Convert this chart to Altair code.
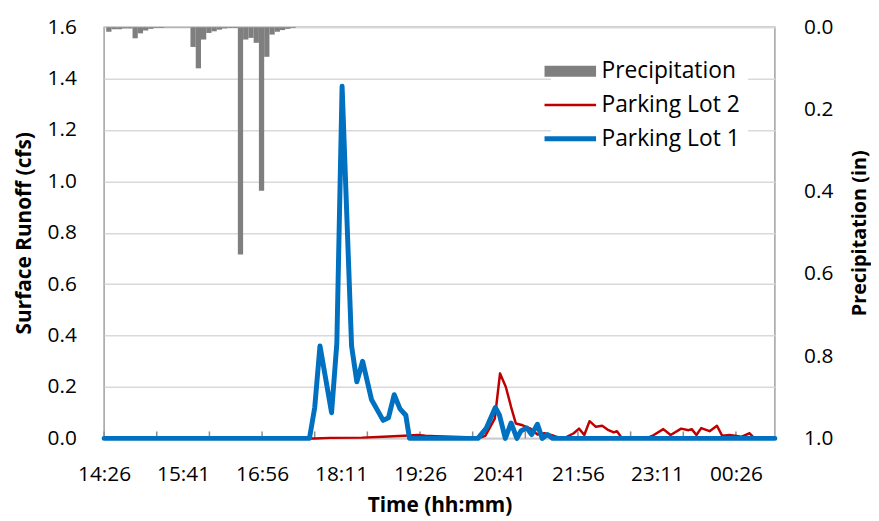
import altair as alt
import pandas as pd

# ---------------- data ----------------
series_names = ["Precipitation", "Parking Lot 2", "Parking Lot 1"]
series_colors = ["#7f7f7f", "#c00000", "#0070c0"]
series_widths = [11, 2.5, 5]

# x values are minutes after 14:26
label_minutes = [0, 75, 150, 225, 300, 375, 450, 525, 600]
tick_minutes = [0, 50, 100, 150, 200, 250, 300, 350, 400, 450, 500, 550, 600]
runoff_ticks = [0.0, 0.2, 0.4, 0.6, 0.8, 1.0, 1.2, 1.4, 1.6]
precip_ticks = [0.0, 0.2, 0.4, 0.6, 0.8, 1.0]

precip_start = [2, 7, 12, 17, 22, 27, 32, 37, 42, 47, 52, 57, 62, 67, 72, 77,
                82, 87, 92, 97, 102, 107, 112, 117, 122, 127, 132, 137, 142,
                147, 152, 157, 162, 167, 172, 177]
precip_in = [0.011, 0.005, 0.005, 0.003, 0.003, 0.027, 0.015, 0.008, 0.004,
             0.002, 0.002, 0.001, 0.001, 0.001, 0.001, 0.001,
             0.048, 0.100, 0.030, 0.014, 0.010, 0.006, 0.003, 0.002, 0.002,
             0.553, 0.030, 0.026, 0.038, 0.398, 0.072, 0.018, 0.011, 0.007,
             0.004, 0.002]

lot1_min = [0, 195, 200, 205, 216, 221, 226, 235, 240, 245.5,
            254, 265, 270, 275.5, 281, 286.5, 290, 355, 363, 371.5,
            375.5, 381, 386.5, 392, 396, 401.5, 406, 411.5, 416, 421,
            426, 637]
lot1_cfs = [0, 0, 0.12, 0.36, 0.10, 0.37, 1.37, 0.36, 0.22, 0.30,
            0.15, 0.07, 0.08, 0.17, 0.115, 0.09, 0, 0, 0.04, 0.12,
            0.09, 0, 0.06, 0, 0.03, 0.04, 0.015, 0.055, 0, 0.015,
            0, 0]

lot2_min = [0, 200, 215, 245, 265, 285, 298, 305, 315, 330,
            345, 355, 362, 371, 376, 381.5, 386.5, 391, 397.5, 405,
            411.5, 418, 427, 435, 438, 446, 451, 456, 461, 467,
            473, 479, 484, 487, 492, 515, 522, 531, 538, 548,
            555, 558, 562.5, 567, 575, 582, 587, 594, 599, 605,
            613, 617.5, 637]
lot2_cfs = [0, 0, 0.002, 0.003, 0.006, 0.01, 0.013, 0.01, 0.008, 0.006,
            0.004, 0, 0.01, 0.077, 0.253, 0.2, 0.122, 0.058, 0.051, 0.038,
            0.015, 0.02, 0.01, 0, 0.003, 0.02, 0.038, 0.013, 0.067, 0.045,
            0.049, 0.032, 0.023, 0.028, 0, 0, 0.013, 0.036, 0.013, 0.038,
            0.032, 0.036, 0.013, 0.04, 0.028, 0.049, 0.01, 0.013, 0.01, 0.006,
            0.02, 0, 0]

# ---------------- tables ----------------
precip_df = pd.DataFrame({
    "t": precip_start,
    "t2": [s + 5 for s in precip_start],
    "precip": precip_in,
    "zero": [0.0] * len(precip_start),
})
lot1_df = pd.DataFrame({"t": lot1_min, "cfs": lot1_cfs,
                        "series": ["Parking Lot 1"] * len(lot1_min)})
lot2_df = pd.DataFrame({"t": lot2_min, "cfs": lot2_cfs,
                        "series": ["Parking Lot 2"] * len(lot2_min)})
tick_df = pd.DataFrame({"t": tick_minutes})

FONT = "Open Sans"
W, H = 677, 415

x_scale = alt.Scale(domain=[0, 637], nice=False, zero=False)
x_axis = alt.Axis(
    values=label_minutes,
    labelExpr="timeFormat(datetime(2000, 0, 1, 14, 26 + datum.value), '%H:%M')",
    ticks=False, tickSize=0, domain=False, grid=False,
    labelOverlap=False, labelFlush=False, labelBound=False,
    labelFontSize=21, labelPadding=26, labelColor="#000000",
    title="Time (hh:mm)", titleFontSize=21, titleFontWeight="bold",
    titleColor="#000000", titlePadding=10,
)

y_left = alt.Y(
    "cfs:Q",
    scale=alt.Scale(domain=[0, 1.6], nice=False),
    axis=alt.Axis(
        values=runoff_ticks, format=".1f", grid=True, gridColor="#d9d9d9",
        gridWidth=1.5, domain=False, ticks=False, tickSize=0,
        labelFontSize=21, labelPadding=28, labelColor="#000000",
        title="Surface Runoff (cfs)", titleFontSize=21, titleFontWeight="bold",
        titleColor="#000000", titlePadding=13,
    ),
)

legend = alt.Legend(
    title=None, orient="none", legendX=451, legendY=25,
    symbolType="M-5.2,0H5.2", symbolSize=100, symbolOpacity=1,
    labelFontSize=23, labelFont=FONT, labelColor="#000000", labelOffset=20,
    rowPadding=-13, padding=8, fillColor="#ffffff", labelLimit=300,
    gridAlign="all",
)

color_enc = alt.Color("series:N",
                      scale=alt.Scale(domain=series_names, range=series_colors),
                      legend=legend)
width_enc = alt.StrokeWidth("series:N",
                            scale=alt.Scale(type="ordinal", domain=series_names,
                                            range=series_widths),
                            legend=legend)

lot2_line = alt.Chart(lot2_df).mark_line(strokeJoin="round", strokeCap="round").encode(
    x=alt.X("t:Q", scale=x_scale, axis=x_axis),
    y=y_left,
    color=color_enc,
    strokeWidth=width_enc,
)
lot1_line = alt.Chart(lot1_df).mark_line(strokeJoin="round", strokeCap="round").encode(
    x=alt.X("t:Q", scale=x_scale, axis=x_axis),
    y=y_left,
    color=color_enc,
    strokeWidth=width_enc,
)
ticks = alt.Chart(tick_df).mark_rule(color="#8c8c8c", strokeWidth=1.5).encode(
    x=alt.X("t:Q", scale=x_scale, axis=x_axis),
    y=alt.value(H - 7),
    y2=alt.value(H),
)

bars = alt.Chart(precip_df).mark_bar(color="#7f7f7f", opacity=1).encode(
    x=alt.X("t:Q", scale=x_scale, axis=x_axis),
    x2="t2:Q",
    y=alt.Y(
        "precip:Q",
        scale=alt.Scale(domain=[0, 1.0], reverse=True, nice=False),
        axis=alt.Axis(
            orient="right", values=precip_ticks, format=".1f", grid=False,
            domain=False, ticks=False, tickSize=0,
            labelFontSize=21, labelPadding=29, labelColor="#000000",
            title="Precipitation (in)", titleFontSize=20, titleFontWeight="bold",
            titleColor="#000000", titlePadding=17, titleAngle=270,
            titleBaseline="top",
        ),
    ),
    y2="zero:Q",
)

runoff = alt.layer(ticks, lot2_line, lot1_line)

chart = alt.layer(runoff, bars).resolve_scale(y="independent").properties(
    width=W, height=H,
    autosize=alt.AutoSizeParams(type="none"),
    padding={"left": 97, "top": 17, "right": 97, "bottom": 81},
).configure(
    font=FONT,
).configure_view(
    stroke="#a0a0a0", strokeWidth=1.5,
)

chart.save("out.html", embed_options={"renderer": "svg", "actions": False})
